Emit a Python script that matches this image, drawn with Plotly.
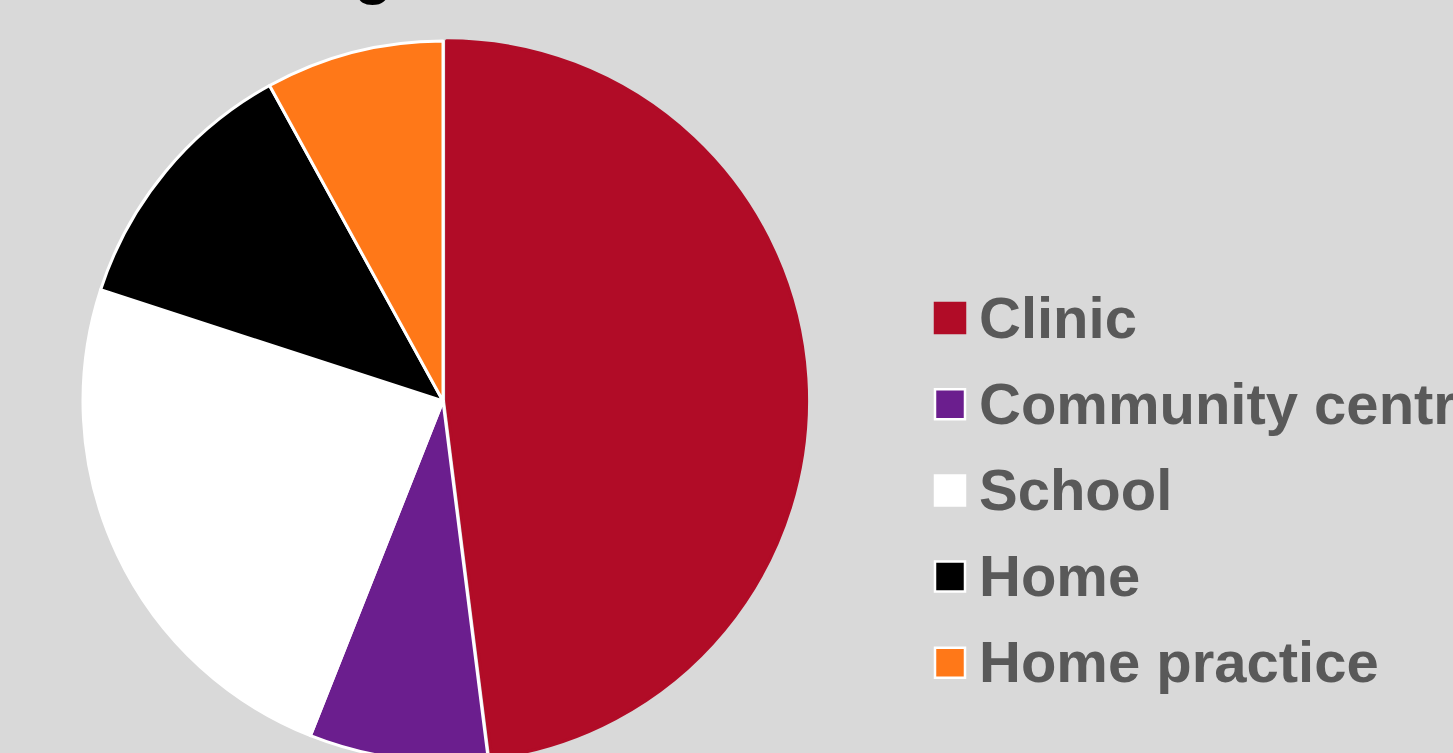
import plotly.graph_objects as go

# Session setting breakdown
categories = ["Clinic", "Community centre", "School", "Home", "Home practice"]
counts = [12, 2, 6, 3, 2]
slice_colors = ["#B10C27", "#6B1E8E", "#FFFFFF", "#000000", "#FF7818"]
edge_colors = ["#B10C27", "#FFFFFF", "#FFFFFF", "#FFFFFF", "#FFFFFF"]
title_text = "Setting"

W, H = 1600, 800
BG = "#D9D9D9"

# pie geometry in pixels
cx, cy, r, pull = 443, 401, 360, 0.01
half = r * (1 + pull)

fig = go.Figure(
    go.Pie(
        labels=categories,
        values=counts,
        sort=False,
        direction="clockwise",
        rotation=0,
        pull=[pull, 0, 0, 0, 0],
        marker=dict(colors=slice_colors, line=dict(color=edge_colors, width=3)),
        textinfo="none",
        hoverinfo="label+value+percent",
        showlegend=False,
        domain=dict(
            x=[(cx - half) / W, (cx + half) / W],
            y=[1 - (cy + half) / H, 1 - (cy - half) / H],
        ),
    )
)

# hand-built legend with large swatches
shapes, annotations = [], []
row0, step, sw = 318, 86.2, 30
sx, tx = 935, 977
for i, (name, col, edge) in enumerate(zip(categories, slice_colors, edge_colors)):
    yc = row0 + i * step
    shapes.append(dict(
        type="rect", xref="paper", yref="paper",
        x0=sx / W, x1=(sx + sw) / W,
        y0=1 - (yc + sw / 2) / H, y1=1 - (yc - sw / 2) / H,
        fillcolor=col, line=dict(color=edge, width=2.5),
    ))
    annotations.append(dict(
        text=f"<b>{name}</b>", xref="paper", yref="paper",
        x=tx / W, y=1 - (yc - 1) / H, xanchor="left", yanchor="middle",
        showarrow=False, font=dict(family="Liberation Sans, Arial", size=58, color="#595959"),
    ))

# chart heading, mostly above the visible area
annotations.append(dict(
    text=f"<b>{title_text}</b>", xref="paper", yref="paper",
    x=394 / W, y=1 - 7 / H, xanchor="right", yanchor="bottom",
    showarrow=False, font=dict(family="Liberation Sans, Arial", size=62, color="#000000"),
))

fig.update_layout(
    width=W, height=H,
    margin=dict(l=0, r=0, t=0, b=0),
    paper_bgcolor=BG, plot_bgcolor=BG,
    shapes=shapes, annotations=annotations,
)

fig.write_html("out.html", post_script="document.body.style.overflow='hidden';document.body.style.margin='0';")
